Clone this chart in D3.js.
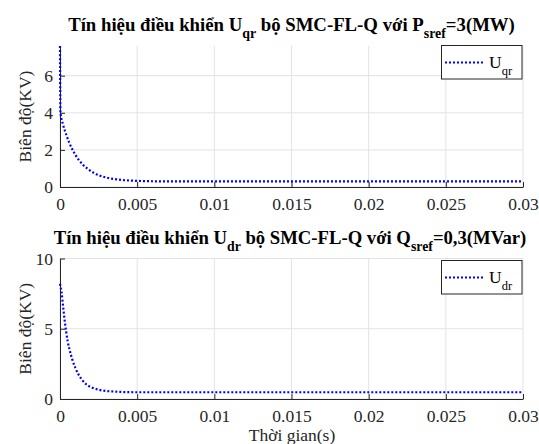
<!DOCTYPE html>
<html><head><meta charset="utf-8">
<script src="https://cdn.jsdelivr.net/npm/d3@7"></script>
<style>body{margin:0;background:#fff}svg{display:block}</style>
</head><body>
<svg id="c" width="539" height="444"></svg>
<script>
const xTicks = [0, 0.005, 0.01, 0.015, 0.02, 0.025, 0.03];
const xTickLabels = ["0", "0.005", "0.01", "0.015", "0.02", "0.025", "0.03"];
const topYTicks = [0, 2, 4, 6];
const botYTicks = [0, 5, 10];
const uqrTime = [0, 0.00003, 0.0002, 0.0004, 0.0006, 0.0008, 0.001, 0.0012, 0.0015, 0.0018, 0.0022, 0.0026, 0.003, 0.0035, 0.004, 0.005, 0.006, 0.008, 0.03];
const uqrVals = [7.6, 4.0, 3.36, 2.83, 2.39, 2.03, 1.73, 1.48, 1.19, 0.97, 0.76, 0.61, 0.51, 0.43, 0.38, 0.33, 0.31, 0.30, 0.30];
const udrTime = [0, 0.0001, 0.0002, 0.0003, 0.0004, 0.0005, 0.0006, 0.0008, 0.001, 0.0012, 0.0014, 0.0017, 0.002, 0.0025, 0.003, 0.0035, 0.004, 0.005, 0.03];
const udrVals = [8.2, 7.6, 6.6, 5.6, 4.8, 4.1, 3.6, 2.8, 2.2, 1.75, 1.4, 1.05, 0.85, 0.66, 0.57, 0.53, 0.50, 0.48, 0.48];

const FONT = "Liberation Serif";
const svg = d3.select("#c");
const x = d3.scaleLinear().domain([0, 0.03]).range([60, 523]);

function panel(cfg) {
  const y = d3.scaleLinear().domain(cfg.yDomain).range([cfg.bottom, cfg.top]);
  const g = svg.append("g");
  g.selectAll(".gx").data(xTicks).enter().append("line")
    .attr("x1", d => x(d)).attr("x2", d => x(d)).attr("y1", cfg.top).attr("y2", cfg.bottom)
    .attr("stroke", "#e3e3e3").attr("stroke-width", 1);
  g.selectAll(".gy").data(cfg.yTicks).enter().append("line")
    .attr("x1", 60).attr("x2", 523).attr("y1", d => y(d)).attr("y2", d => y(d))
    .attr("stroke", "#e3e3e3").attr("stroke-width", 1);
  const xa = g.append("g").attr("transform", `translate(0,${cfg.bottom})`)
    .call(d3.axisBottom(x).tickValues(xTicks).tickFormat((d, i) => xTickLabels[i]).tickSizeInner(-5).tickSizeOuter(0).tickPadding(11));
  const ya = g.append("g").attr("transform", `translate(60,0)`)
    .call(d3.axisLeft(y).tickValues(cfg.yTicks).tickSizeInner(-5).tickSizeOuter(0).tickPadding(7));
  [xa, ya].forEach(a => {
    a.attr("font-family", FONT);
    a.select(".domain").attr("stroke", "#262626");
    a.selectAll(".tick line").attr("stroke", "#262626");
    a.selectAll("text").attr("font-size", 17.5).attr("fill", "#262626").attr("font-family", FONT);
  });
  xa.selectAll("text").attr("dy", "0.71em");
  const pts = cfg.t.map((t, i) => [t, cfg.v[i]]);
  g.append("path").datum(pts)
    .attr("d", d3.line().x(d => x(d[0])).y(d => y(d[1])).curve(d3.curveMonotoneX))
    .attr("fill", "none").attr("stroke", "#0000ff").attr("stroke-width", 2.2)
    .attr("stroke-dasharray", "2,2");
  g.append("text").attr("transform", `translate(31,${(cfg.top + cfg.bottom) / 2}) rotate(-90)`)
    .attr("text-anchor", "middle").attr("font-size", 17.5).attr("fill", "#262626").attr("font-family", FONT)
    .text("Biên độ(KV)");
  const base = 18;
  const t = g.append("text").attr("x", cfg.titleX).attr("y", cfg.titleY).attr("text-anchor", "middle")
    .attr("font-size", base).attr("font-weight", "bold").attr("fill", "#000").attr("font-family", FONT);
  cfg.title.forEach(p => {
    const s = t.append("tspan").text(p.s);
    if (p.sub) s.attr("class", "sub").attr("dy", 7); else if (p.after) s.attr("dy", -7);
  });
  t.selectAll(".sub").attr("font-size", base * 0.74);
  const w = t.node().getBBox().width;
  const fs = base * cfg.titleW / w;
  t.attr("font-size", fs);
  t.selectAll(".sub").attr("font-size", fs * 0.74);
  const lgTop = cfg.legendTop;
  const lg = g.append("g");
  lg.append("rect").attr("x", 441.5).attr("y", lgTop).attr("width", 80.5).attr("height", 33.5)
    .attr("fill", "#fff").attr("stroke", "#262626").attr("stroke-width", 1);
  lg.append("line").attr("x1", 445).attr("x2", 485).attr("y1", lgTop + 17).attr("y2", lgTop + 17)
    .attr("stroke", "#0000ff").attr("stroke-width", 2.2).attr("stroke-dasharray", "2,2");
  const lt = lg.append("text").attr("x", 489).attr("y", lgTop + 22.5).attr("font-size", 17.5).attr("fill", "#000").attr("font-family", FONT);
  lt.append("tspan").text("U");
  lt.append("tspan").text(cfg.legendSub).attr("font-size", 12.5).attr("dy", 7);
}

panel({
  top: 46, bottom: 187, yDomain: [0, 7.6], yTicks: topYTicks, t: uqrTime, v: uqrVals, titleY: 31, titleX: 291.5, titleW: 447,
  legendSub: "qr", legendTop: 45.5,
  title: [{s: "Tín hiệu điều khiển U"}, {s: "qr", sub: true}, {s: " bộ SMC-FL-Q với P", after: true}, {s: "sref", sub: true}, {s: "=3(MW)", after: true}]
});
panel({
  top: 258.5, bottom: 399, yDomain: [0, 10], yTicks: botYTicks, t: udrTime, v: udrVals, titleY: 244, titleX: 290, titleW: 473,
  legendSub: "dr", legendTop: 260.5,
  title: [{s: "Tín hiệu điều khiển U"}, {s: "dr", sub: true}, {s: " bộ SMC-FL-Q với Q", after: true}, {s: "sref", sub: true}, {s: "=0,3(MVar)", after: true}]
});

svg.append("text").attr("x", 292).attr("y", 441).attr("text-anchor", "middle")
  .attr("font-size", 17.5).attr("fill", "#262626").attr("font-family", FONT).text("Thời gian(s)");
</script>
</body></html>
